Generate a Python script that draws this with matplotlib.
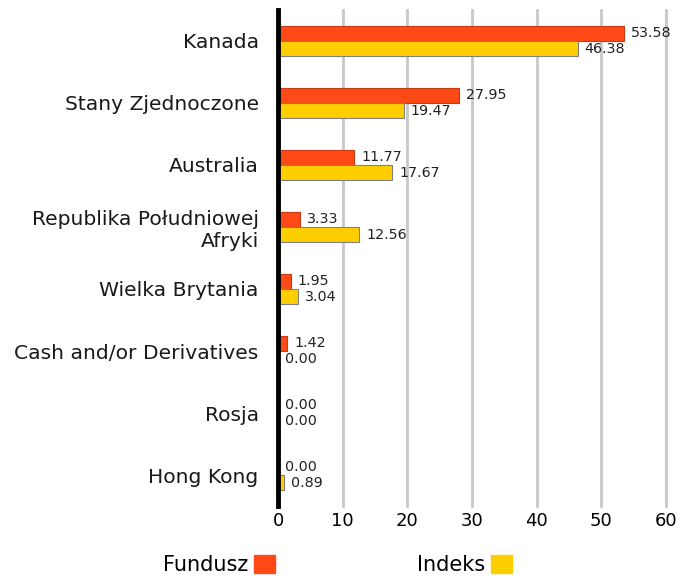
import matplotlib.pyplot as plt
import numpy as np
from matplotlib.patches import Patch

plt.rcParams['font.family'] = ['DejaVu Sans']

categories = ['Kanada', 'Stany Zjednoczone', 'Australia', 'Republika Południowej\nAfryki',
              'Wielka Brytania', 'Cash and/or Derivatives', 'Rosja', 'Hong Kong']
fundusz = [53.58, 27.95, 11.77, 3.33, 1.95, 1.42, 0.00, 0.00]
indeks = [46.38, 19.47, 17.67, 12.56, 3.04, 0.00, 0.00, 0.89]

c_fund = '#FF4A17'
c_ind = '#FFCE00'

fig = plt.figure(figsize=(6.9, 5.83), dpi=100)
ax = fig.add_axes([0.403, 0.132, 0.562, 0.851])

y = np.arange(len(categories))
h = 0.245
ax.barh(y - h/2, fundusz, height=h, color=c_fund, edgecolor='#C83A12', linewidth=0.8, zorder=3)
ax.barh(y + h/2, indeks, height=h, color=c_ind, edgecolor='#808080', linewidth=0.8, zorder=3)

for i in range(len(categories)):
    ax.annotate('%.2f' % fundusz[i], (fundusz[i], y[i] - h/2), xytext=(5, 0), textcoords='offset points',
                va='center', ha='left', fontsize=10.3, color='#222222')
    ax.annotate('%.2f' % indeks[i], (indeks[i], y[i] + h/2), xytext=(5, 0), textcoords='offset points',
                va='center', ha='left', fontsize=10.3, color='#222222')

ax.set_ylim(len(categories) - 0.5, -0.5)
ax.set_xlim(0, 60)
ax.set_xticks(np.arange(0, 61, 10))
ax.set_yticks(y)
ax.set_yticklabels(categories, fontsize=14.6, color='#1a1a1a')
ax.tick_params(axis='x', length=0, labelsize=13, pad=4)
ax.tick_params(axis='y', length=0, pad=14)
for s in ['top', 'right', 'bottom']:
    ax.spines[s].set_visible(False)
ax.spines['left'].set_linewidth(3.5)
ax.spines['left'].set_color('black')
ax.spines['left'].set_zorder(5)
ax.grid(axis='x', color='#c8c8c8', linewidth=2, zorder=0)
for gl in ax.get_xgridlines():
    gl.set_clip_on(False)
ax.set_axisbelow(True)

handles = [Patch(color=c_fund, label='Fundusz'), Patch(color=c_ind, label='Indeks')]
fig.legend(handles=handles, loc='center', bbox_to_anchor=(0.489, 0.031), ncol=2, frameon=False,
           markerfirst=False, fontsize=15, handlelength=1.0, handleheight=1.0,
           columnspacing=6.8, handletextpad=0.3)

fig.savefig('out.png', dpi=100)
